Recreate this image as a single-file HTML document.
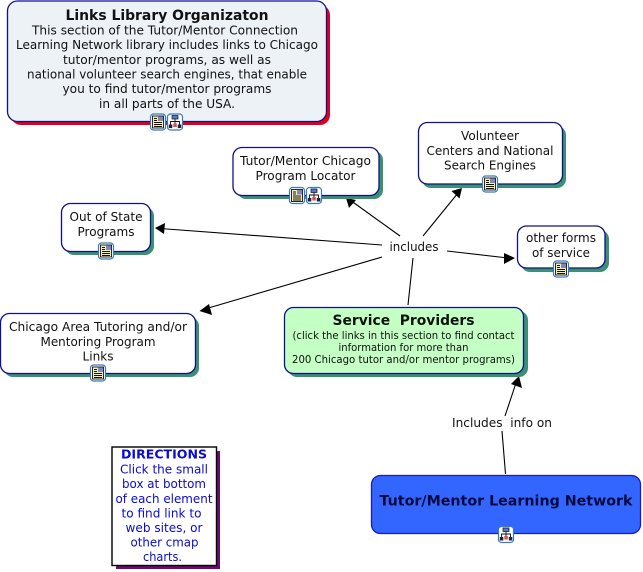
<!DOCTYPE html>
<html><head><meta charset="utf-8"><style>
html,body{margin:0;padding:0;background:#fff;width:643px;height:572px;overflow:hidden}
svg{display:block}
text{font-family:"DejaVu Sans",sans-serif;font-size:12px;text-anchor:middle;fill:#111}
.b{font-weight:bold}
.s{font-size:10.5px}
.d{fill:#0a0ad0}
.n{stroke:#10108c;stroke-width:1.300}
</style></head><body>
<svg width="643" height="572" viewBox="0 0 643 572" xmlns="http://www.w3.org/2000/svg">
<defs>
<g id="doc"><rect x=".5" y=".5" width="15" height="16" rx="3" fill="#fff" stroke="#3a78c0" stroke-width="1.200"/><rect x="2.500" y="2.500" width="11" height="12" fill="#f7efb0" stroke="#111" stroke-width=".9"/><rect x="8" y="3" width="5" height="4.500" fill="#6f8fd0"/><path d="M9 6.500l3-3" stroke="#c66" stroke-width=".8"/><path d="M4 5h3M4 7h3M4 9h8M4 11h8M4 13h8" stroke="#111" stroke-width=".9"/></g>
<g id="net"><rect x=".5" y=".5" width="15" height="16" rx="3" fill="#fff" stroke="#3a78c0" stroke-width="1.200"/><rect x="5" y="2" width="6" height="3.500" fill="#5577cc" stroke="#111" stroke-width=".7"/><path d="M8 5.500v5M3.500 11V8h9v3" fill="none" stroke="#111" stroke-width=".9"/><rect x="1.800" y="11" width="3.500" height="3.500" fill="#223" /><rect x="6.300" y="10" width="3.500" height="3.500" fill="#c55"/><rect x="10.800" y="11" width="3.500" height="3.500" fill="#223"/></g>
</defs>

<!-- connectors -->
<g stroke="#000" stroke-width="1.100" fill="none">
<line x1="400" y1="236" x2="350" y2="200"/>
<line x1="423" y1="236" x2="458" y2="193"/>
<line x1="382" y1="245" x2="160" y2="228.500"/>
<line x1="382" y1="257" x2="205" y2="309"/>
<line x1="447" y1="251" x2="508" y2="258"/>
<line x1="413" y1="258" x2="408" y2="305"/>
<line x1="505.500" y1="474" x2="502" y2="431"/>
<line x1="505" y1="416" x2="516" y2="383"/>
</g>
<g fill="#000">
<polygon points="346,198 356,200 349,208"/>
<polygon points="462,188 459.500,198.500 451.500,191"/>
<polygon points="155,228 165,223 164,234"/>
<polygon points="199.500,311 209,304 212,315"/>
<polygon points="515,258 504,253 504,264"/>
<polygon points="519,376 522,388 511,384"/>
</g>

<!-- box 1 -->
<rect x="11" y="5" width="319" height="120" rx="10" fill="#e0001e"/>
<rect x="7.500" y="1" width="319" height="120.500" rx="10" fill="#ecf2f6" class="n"/>
<text class="b" x="167" y="20" style="font-size:14px" textLength="203" lengthAdjust="spacingAndGlyphs">Links Library Organizaton</text>
<text x="165" y="34.500" textLength="266" lengthAdjust="spacingAndGlyphs">This section of the Tutor/Mentor Connection</text>
<text x="167" y="49" textLength="302" lengthAdjust="spacingAndGlyphs">Learning Network library includes links to Chicago</text>
<text x="167" y="64" textLength="208" lengthAdjust="spacingAndGlyphs">tutor/mentor programs, as well as</text>
<text x="167" y="78.500" textLength="280" lengthAdjust="spacingAndGlyphs">national volunteer search engines, that enable</text>
<text x="167" y="93" textLength="209" lengthAdjust="spacingAndGlyphs">you to find tutor/mentor programs</text>
<text x="167" y="108" textLength="136" lengthAdjust="spacingAndGlyphs">in all parts of the USA.</text>
<use href="#doc" x="150" y="113.500"/><use href="#net" x="167" y="113.500"/>

<!-- Tutor Mentor Chicago -->
<rect x="237" y="151" width="146" height="48" rx="9" fill="#3b8f72"/>
<rect x="233" y="147.500" width="146" height="48" rx="9" fill="#fff" class="n"/>
<text x="305.500" y="165" textLength="131" lengthAdjust="spacingAndGlyphs">Tutor/Mentor Chicago</text>
<text x="305.500" y="180" textLength="100" lengthAdjust="spacingAndGlyphs">Program Locator</text>
<use href="#doc" x="289" y="187"/><use href="#net" x="306" y="187"/>

<!-- Volunteer -->
<rect x="422" y="126" width="144" height="62" rx="9" fill="#3b8f72"/>
<rect x="418.500" y="122.500" width="144" height="61.500" rx="9" fill="#fff" class="n"/>
<text x="490" y="140" textLength="58" lengthAdjust="spacingAndGlyphs">Volunteer</text>
<text x="490" y="155" textLength="127" lengthAdjust="spacingAndGlyphs">Centers and National</text>
<text x="490" y="169.500" textLength="92" lengthAdjust="spacingAndGlyphs">Search Engines</text>
<use href="#doc" x="482" y="175.500"/>

<!-- Out of State -->
<rect x="65" y="207" width="89" height="48" rx="9" fill="#3b8f72"/>
<rect x="61.500" y="203.500" width="89" height="48" rx="9" fill="#fff" class="n"/>
<text x="106" y="221" textLength="73" lengthAdjust="spacingAndGlyphs">Out of State</text>
<text x="106" y="236" textLength="57" lengthAdjust="spacingAndGlyphs">Programs</text>
<use href="#doc" x="98" y="242.500"/>

<!-- Chicago Area -->
<rect x="4" y="317" width="195" height="60" rx="9" fill="#3b8f72"/>
<rect x=".5" y="313.500" width="195" height="60" rx="9" fill="#fff" class="n"/>
<text x="98" y="331" textLength="178" lengthAdjust="spacingAndGlyphs">Chicago Area Tutoring and/or</text>
<text x="98" y="346" textLength="115" lengthAdjust="spacingAndGlyphs">Mentoring Program</text>
<text x="98" y="360.500" textLength="31" lengthAdjust="spacingAndGlyphs">Links</text>
<use href="#doc" x="90" y="364.500"/>

<!-- other forms -->
<rect x="521" y="230" width="88" height="42" rx="9" fill="#3b8f72"/>
<rect x="517.500" y="226" width="87.500" height="42" rx="9" fill="#fff" class="n"/>
<text x="561" y="242" textLength="70" lengthAdjust="spacingAndGlyphs">other forms</text>
<text x="561" y="257" textLength="58" lengthAdjust="spacingAndGlyphs">of service</text>
<use href="#doc" x="553" y="260.500"/>

<!-- Service Providers -->
<rect x="288" y="311" width="240" height="66" rx="9" fill="#3b8f72"/>
<rect x="284.500" y="307.500" width="239" height="66" rx="9" fill="#c4ffc4" class="n"/>
<text class="b" x="403.500" y="325" style="font-size:14px" textLength="142" lengthAdjust="spacingAndGlyphs" xml:space="preserve">Service  Providers</text>
<text class="s" x="403.500" y="339" textLength="222" lengthAdjust="spacingAndGlyphs">(click the links in this section to find contact</text>
<text class="s" x="403.500" y="351" textLength="130" lengthAdjust="spacingAndGlyphs">information for more than</text>
<text class="s" x="403.500" y="363" textLength="223" lengthAdjust="spacingAndGlyphs">200 Chicago tutor and/or mentor programs)</text>

<!-- Tutor/Mentor Learning Network -->
<rect x="371.500" y="475.500" width="269" height="58" rx="9" fill="#3366ff" stroke="#1a1ac0" stroke-width="1.300"/>
<text class="b" x="506" y="505.500" style="font-size:14px;fill:#050a3c" textLength="253" lengthAdjust="spacingAndGlyphs">Tutor/Mentor Learning Network</text>
<use href="#net" x="498" y="526"/>

<!-- Directions -->
<rect x="116" y="451" width="104" height="118" fill="#6e0a6e"/>
<rect x="112" y="447" width="104.500" height="118.500" fill="#fff" stroke="#000" stroke-width="1.400"/>
<text class="d b" x="164" y="458.500" textLength="86" lengthAdjust="spacingAndGlyphs">DIRECTIONS</text>
<text class="d" x="164" y="473.500" textLength="88" lengthAdjust="spacingAndGlyphs">Click the small</text>
<text class="d" x="164" y="488" textLength="84" lengthAdjust="spacingAndGlyphs">box at bottom</text>
<text class="d" x="164" y="503" textLength="97" lengthAdjust="spacingAndGlyphs">of each element</text>
<text class="d" x="161.500" y="517.500" textLength="80" lengthAdjust="spacingAndGlyphs">to find link to</text>
<text class="d" x="164" y="532" textLength="77" lengthAdjust="spacingAndGlyphs">web sites, or</text>
<text class="d" x="164.500" y="546.500" textLength="68" lengthAdjust="spacingAndGlyphs">other cmap</text>
<text class="d" x="162.500" y="561" textLength="39" lengthAdjust="spacingAndGlyphs">charts.</text>

<!-- link labels -->
<text x="414" y="251" textLength="49" lengthAdjust="spacingAndGlyphs">includes</text>
<text x="502" y="427" textLength="100" lengthAdjust="spacingAndGlyphs" xml:space="preserve">Includes  info on</text>
</svg>
</body></html>
